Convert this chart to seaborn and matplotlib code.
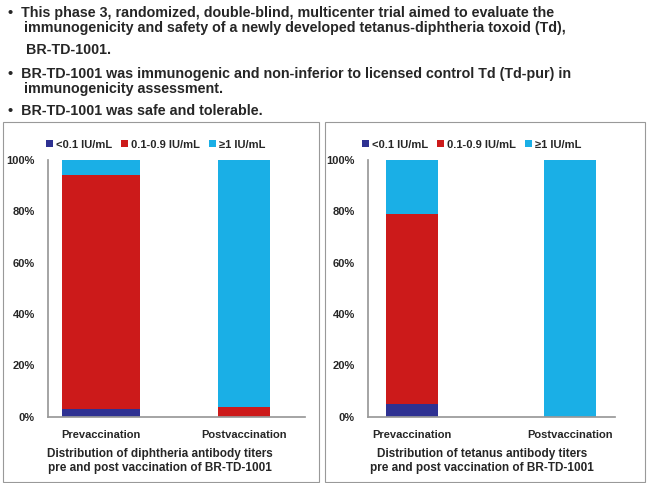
import matplotlib
matplotlib.use("Agg")
import matplotlib.pyplot as plt
import seaborn as sns
import pandas as pd
from matplotlib.patches import Rectangle

categories = ["Prevaccination", "Postvaccination"]
series = ["<0.1 IU/mL", "0.1-0.9 IU/mL", "≥1 IU/mL"]
diph_low = [3, 0]
diph_mid = [91, 4]
diph_high = [6, 96]
tet_low = [5, 0]
tet_mid = [74, 0]
tet_high = [21, 100]
colors = ["#2E3192", "#CC1A1A", "#1AAFE6"]

sns.set_theme(style="white")
plt.rcParams['font.family'] = ['Liberation Sans', 'DejaVu Sans']

fig = plt.figure(figsize=(6.5, 4.83), dpi=100)

fig.text(0.012, 0.988, "•  This phase 3, randomized, double-blind, multicenter trial aimed to evaluate the\n    immunogenicity and safety of a newly developed tetanus-diphtheria toxoid (Td),",
         fontsize=10.3, fontweight="bold", va="top", linespacing=1.1)
fig.text(0.040, 0.910, "BR-TD-1001.", fontsize=10.3, fontweight="bold", va="top")
fig.text(0.012, 0.862, "•  BR-TD-1001 was immunogenic and non-inferior to licensed control Td (Td-pur) in\n    immunogenicity assessment.",
         fontsize=10.3, fontweight="bold", va="top", linespacing=1.1)
fig.text(0.012, 0.785, "•  BR-TD-1001 was safe and tolerable.", fontsize=10.3, fontweight="bold", va="top")

for x0, w in [(0.005, 0.485), (0.500, 0.493)]:
    fig.add_artist(Rectangle((x0, 0.002), w, 0.746, transform=fig.transFigure,
                             fill=False, edgecolor="#999999", lw=0.8))

def panel(rect, low, mid, high, title, widths, xlim, tx):
    ax = fig.add_axes(rect)
    df = pd.DataFrame({"cat": categories, "low": low, "mid": mid, "high": high})
    b1 = [l + m for l, m in zip(low, mid)]
    kw = dict(width=widths[1], ax=ax, saturation=1, linewidth=0)
    sns.barplot(data=df, x="cat", y="low", color=colors[0], label=series[0], **kw)
    sns.barplot(data=df, x="cat", y="mid", bottom=low, color=colors[1], label=series[1], **kw)
    sns.barplot(data=df, x="cat", y="high", bottom=b1, color=colors[2], label=series[2], **kw)
    for p in ax.patches:
        cx = p.get_x() + p.get_width() / 2
        if cx < 0.5:
            p.set_width(widths[0]); p.set_x(cx - widths[0] / 2)
    ax.set_ylim(0, 100)
    ax.set_xlim(*xlim)
    ax.set_yticks(range(0, 101, 20))
    ax.set_yticklabels([f"{v}%" for v in range(0, 101, 20)], fontsize=8, fontweight="bold")
    ax.tick_params(axis="x", labelsize=8)
    for t in ax.get_xticklabels():
        t.set_fontweight("bold")
    ax.set_xlabel(""); ax.set_ylabel("")
    for s in ["top", "right"]:
        ax.spines[s].set_visible(False)
    ax.spines["left"].set_color("#999999"); ax.spines["bottom"].set_color("#999999")
    ax.legend(loc="lower center", bbox_to_anchor=(0.42, 1.0), ncol=3, frameon=False,
              handlelength=0.6, handleheight=0.6, columnspacing=0.8, handletextpad=0.3,
              prop={"weight": "bold", "size": 8})
    fig.text(tx, 0.072, title, ha="center", va="top", fontsize=8.5, fontweight="bold", linespacing=1.2)

panel([48/650, 0.137, 257/650, 0.532], diph_low, diph_mid, diph_high,
      "Distribution of diphtheria antibody titers\npre and post vaccination of BR-TD-1001",
      (0.55, 0.36), (-0.371, 1.427), 160/650)
panel([368/650, 0.137, 247/650, 0.532], tet_low, tet_mid, tet_high,
      "Distribution of tetanus antibody titers\npre and post vaccination of BR-TD-1001",
      (0.33, 0.33), (-0.278, 1.285), 482/650)

fig.savefig("out.png", dpi=100)
